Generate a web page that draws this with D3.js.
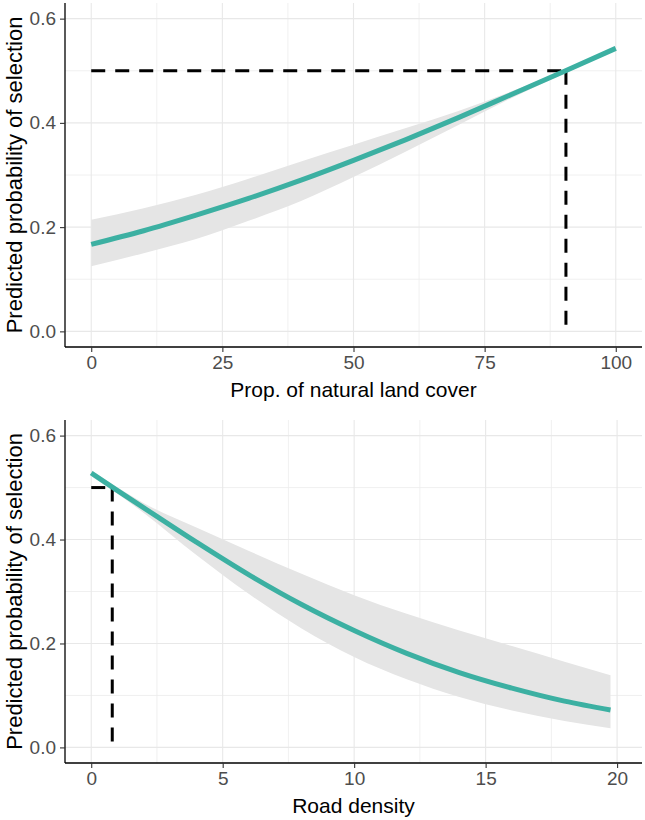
<!DOCTYPE html>
<html>
<head>
<meta charset="utf-8">
<script src="https://d3js.org/d3.v7.min.js"></script>
<style>
  body { margin: 0; background: #fff; }
  svg { display: block; font-family: "Liberation Sans", Arial, sans-serif; }
</style>
</head>
<body>
<div id="chart"></div>
<script>
// panel 1: natural land cover
var natX   = [0, 10, 20, 30, 40, 50, 60, 70, 80, 90, 100];
var natFit = [0.167, 0.193, 0.223, 0.255, 0.290, 0.328, 0.368, 0.410, 0.454, 0.498, 0.543];
var natLo  = [0.125, 0.150, 0.177, 0.212, 0.250, 0.296, 0.345, 0.396, 0.447, 0.494, 0.539];
var natHi  = [0.214, 0.236, 0.262, 0.293, 0.326, 0.358, 0.390, 0.423, 0.460, 0.502, 0.547];
var natCut = 90.5;

// panel 2: road density
var roadX   = [0, 1, 2, 4, 6, 8, 10, 12, 14, 16, 18, 19.75];
var roadFit = [0.528, 0.494, 0.461, 0.395, 0.332, 0.275, 0.225, 0.181, 0.144, 0.114, 0.089, 0.072];
var roadLo  = [0.522, 0.488, 0.451, 0.370, 0.295, 0.229, 0.174, 0.131, 0.097, 0.071, 0.051, 0.037];
var roadHi  = [0.534, 0.500, 0.470, 0.423, 0.378, 0.334, 0.293, 0.257, 0.225, 0.195, 0.165, 0.139];
var roadCut = 0.8;

var cutProb = 0.5;

// ticks
var yTicks     = [0, 0.2, 0.4, 0.6];
var yMinor     = [0.1, 0.3, 0.5];
var natTicks   = [0, 25, 50, 75, 100];
var natMinor   = [12.5, 37.5, 62.5, 87.5];
var roadTicks  = [0, 5, 10, 15, 20];
var roadMinor  = [2.5, 7.5, 12.5, 17.5];

var yTitle = "Predicted probability of selection";

var W = 645, H = 820;
var teal = "#3cb0a2";

var svg = d3.select("#chart").append("svg")
    .attr("width", W)
    .attr("height", H);

function panel(opt) {
  var g = svg.append("g");
  var left = 65, right = 642;

  var x = d3.scaleLinear().domain(opt.xDomain).range([left, right]);
  var y = d3.scaleLinear().domain([-0.03, 0.63]).range([opt.bottom, opt.top]);

  // grid, minor then major
  g.selectAll(".vminor").data(opt.xMinor).enter().append("line")
      .attr("x1", d => x(d)).attr("x2", d => x(d))
      .attr("y1", opt.top).attr("y2", opt.bottom)
      .style("stroke", "#ececec").style("stroke-width", 0.8);
  g.selectAll(".hminor").data(yMinor).enter().append("line")
      .attr("x1", left).attr("x2", right)
      .attr("y1", d => y(d)).attr("y2", d => y(d))
      .style("stroke", "#ececec").style("stroke-width", 0.8);
  g.selectAll(".vmajor").data(opt.xTicks).enter().append("line")
      .attr("x1", d => x(d)).attr("x2", d => x(d))
      .attr("y1", opt.top).attr("y2", opt.bottom)
      .style("stroke", "#e8e8e8").style("stroke-width", 1.1);
  g.selectAll(".hmajor").data(yTicks).enter().append("line")
      .attr("x1", left).attr("x2", right)
      .attr("y1", d => y(d)).attr("y2", d => y(d))
      .style("stroke", "#e8e8e8").style("stroke-width", 1.1);

  // ribbon
  var pts = opt.xs.map(function(d, i) {
    return { x: d, fit: opt.fit[i], lo: opt.lo[i], hi: opt.hi[i] };
  });
  var area = d3.area()
      .x(d => x(d.x))
      .y0(d => y(d.lo))
      .y1(d => y(d.hi))
      .curve(d3.curveMonotoneX);
  g.append("path").datum(pts)
      .attr("d", area)
      .style("fill", "#e5e5e5");

  // dashed threshold segments
  var dash = "14,10";
  g.append("line")
      .attr("x1", x(0)).attr("x2", x(opt.cut))
      .attr("y1", y(cutProb)).attr("y2", y(cutProb))
      .style("stroke", "#000").style("stroke-width", 3)
      .style("stroke-dasharray", dash);
  g.append("line")
      .attr("x1", x(opt.cut)).attr("x2", x(opt.cut))
      .attr("y1", y(cutProb)).attr("y2", y(0))
      .style("stroke", "#000").style("stroke-width", 3)
      .style("stroke-dasharray", dash);

  // fitted line
  var line = d3.line()
      .x(d => x(d.x))
      .y(d => y(d.fit))
      .curve(d3.curveMonotoneX);
  g.append("path").datum(pts)
      .attr("d", line)
      .style("fill", "none")
      .style("stroke", teal)
      .style("stroke-width", 5);

  // axes
  var xAxis = g.append("g")
      .attr("transform", "translate(0," + opt.bottom + ")")
      .call(d3.axisBottom(x).tickValues(opt.xTicks).tickSize(5).tickPadding(4).tickFormat(d3.format("d")));
  var yAxis = g.append("g")
      .attr("transform", "translate(" + left + ",0)")
      .call(d3.axisLeft(y).tickValues(yTicks).tickSize(5).tickPadding(4).tickFormat(d3.format(".1f")));

  [xAxis, yAxis].forEach(function(a) {
    a.select(".domain").style("stroke", "#000").style("stroke-width", 1.3);
    a.selectAll(".tick line").style("stroke", "#333").style("stroke-width", 1.1);
    a.selectAll(".tick text")
        .style("font-size", "19px")
        .style("font-family", "Liberation Sans, Arial, sans-serif")
        .style("fill", "#4d4d4d");
  });
  // d3 domain path has end ticks, redraw as a plain line
  xAxis.select(".domain").attr("d", "M" + left + ",0H" + right);
  yAxis.select(".domain").attr("d", "M0," + opt.top + "V" + opt.bottom);

  g.append("text")
      .attr("x", (left + right) / 2)
      .attr("y", opt.bottom + 50)
      .attr("text-anchor", "middle")
      .style("font-size", "21px")
      .style("fill", "#000")
      .text(opt.xTitle);

  g.append("text")
      .attr("transform", "translate(22," + ((opt.top + opt.bottom) / 2) + ") rotate(-90)")
      .attr("text-anchor", "middle")
      .style("font-size", "22px")
      .style("fill", "#000")
      .text(yTitle);
}

panel({
  top: 3, bottom: 347,
  xDomain: [-5, 105],
  xTicks: natTicks, xMinor: natMinor,
  xs: natX, fit: natFit, lo: natLo, hi: natHi,
  cut: natCut,
  xTitle: "Prop. of natural land cover"
});

panel({
  top: 420, bottom: 763,
  xDomain: [-0.9975, 20.9475],
  xTicks: roadTicks, xMinor: roadMinor,
  xs: roadX, fit: roadFit, lo: roadLo, hi: roadHi,
  cut: roadCut,
  xTitle: "Road density"
});
</script>
</body>
</html>
